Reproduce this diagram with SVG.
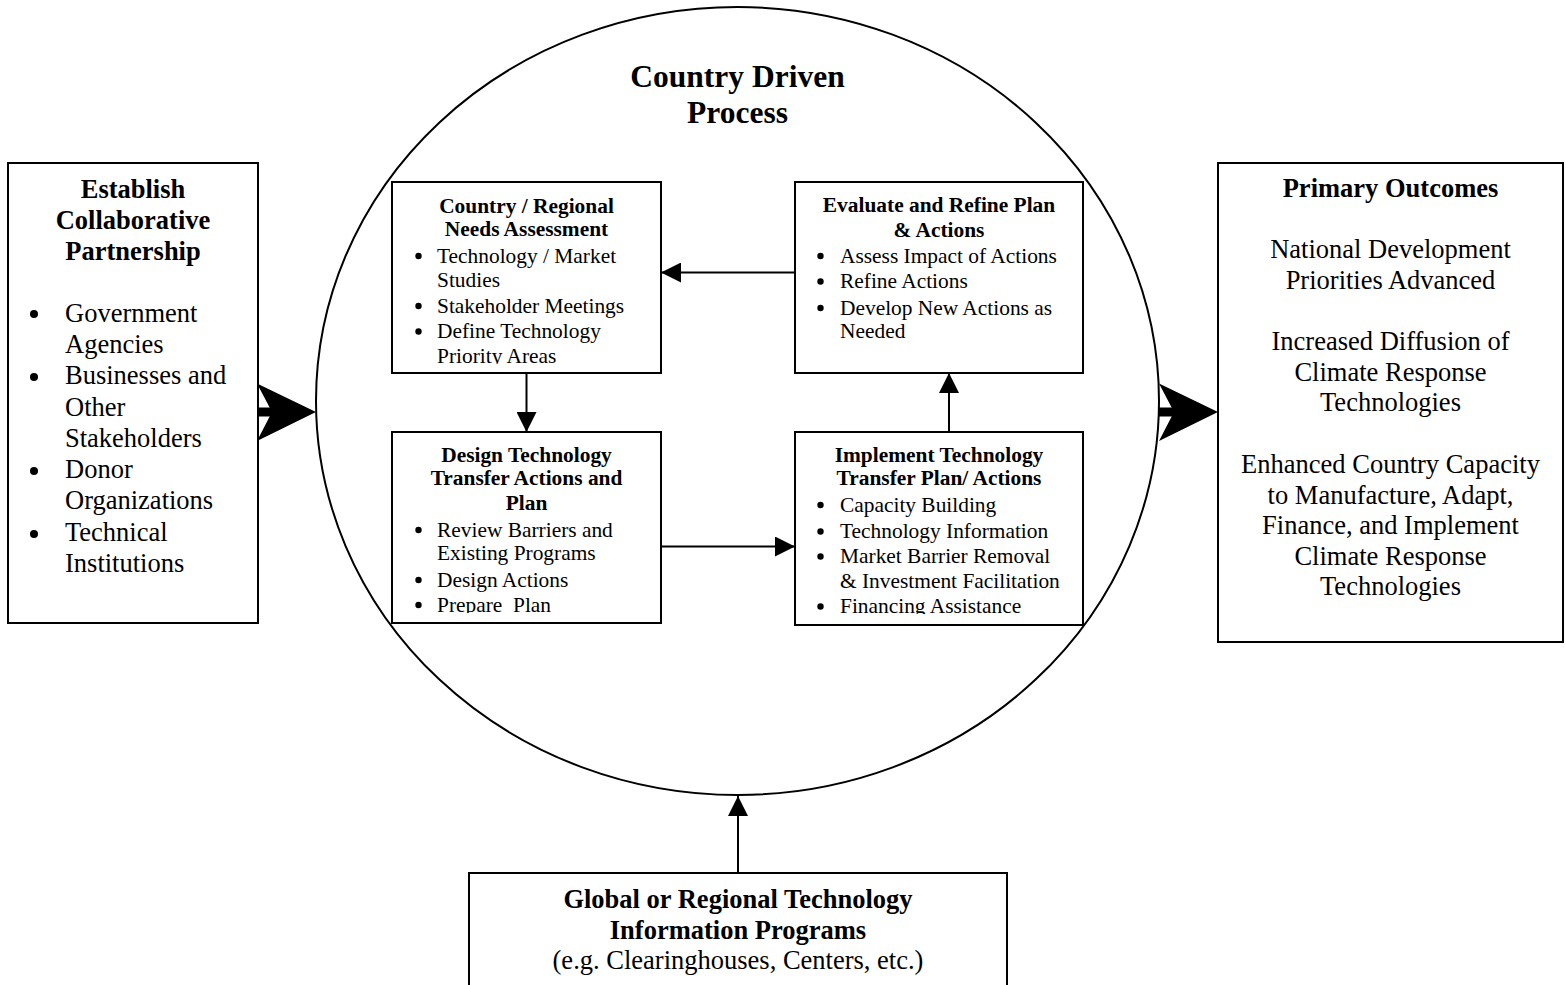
<svg xmlns="http://www.w3.org/2000/svg" width="1566" height="985" viewBox="0 0 1566 985">
  <style>
    .box { fill: #fff; stroke: #000; stroke-width: 2; }
    .ring { fill: none; stroke: #000; stroke-width: 2; }
    .t { font-family: "Liberation Serif", "Times New Roman", serif; fill: #000; }
    .big { font-size: 26.5px; }
    .small { font-size: 21.4px; }
    .b { font-weight: bold; }
    .mid { text-anchor: middle; }
    .link { stroke: #000; stroke-width: 2; fill: none; marker-end: url(#head); }
    .fat { fill: #000; stroke: none; }
    .dot { fill: #000; }
  </style>
  <defs>
    <marker id="head" markerUnits="userSpaceOnUse" markerWidth="20" markerHeight="20" refX="20" refY="10" orient="auto">
      <path d="M0,0 L20,10 L0,20 z" fill="#000"/>
    </marker>
    <clipPath id="clipA"><rect x="392" y="182" width="269" height="182"/></clipPath>
    <clipPath id="clipC"><rect x="392" y="432" width="269" height="181"/></clipPath>
    <clipPath id="clipD"><rect x="795" y="432" width="288" height="182"/></clipPath>
  </defs>

  <rect width="1566" height="985" fill="#fff"/>

  <!-- central process ring -->
  <g id="process">
    <ellipse class="ring" cx="737.5" cy="401" rx="421.5" ry="394"/>
    <text class="t b mid" font-size="31.5" x="737.5" y="87">Country Driven</text>
    <text class="t b mid" font-size="31.5" x="737.5" y="123">Process</text>
  </g>

  <!-- partnership box -->
  <g id="partnership">
    <rect class="box" x="8" y="163" width="250" height="460"/>
    <text class="t big b mid" x="133" y="197.5">Establish</text>
    <text class="t big b mid" x="133" y="229">Collaborative</text>
    <text class="t big b mid" x="133" y="260">Partnership</text>
    <circle class="dot" cx="34" cy="314" r="4"/>
    <circle class="dot" cx="34" cy="377" r="4"/>
    <circle class="dot" cx="34" cy="471" r="4"/>
    <circle class="dot" cx="34" cy="534" r="4"/>
    <text class="t big" x="65" y="321.7">Government</text>
    <text class="t big" x="65" y="353">Agencies</text>
    <text class="t big" x="65" y="384.2">Businesses and</text>
    <text class="t big" x="65" y="415.5">Other</text>
    <text class="t big" x="65" y="446.7">Stakeholders</text>
    <text class="t big" x="65" y="478">Donor</text>
    <text class="t big" x="65" y="509.2">Organizations</text>
    <text class="t big" x="65" y="540.5">Technical</text>
    <text class="t big" x="65" y="571.7">Institutions</text>
  </g>

  <!-- outcomes box -->
  <g id="outcomes">
    <rect class="box" x="1218" y="163" width="345" height="479"/>
    <text class="t big b mid" x="1390.5" y="197">Primary Outcomes</text>
    <text class="t big mid" x="1390.5" y="258">National Development</text>
    <text class="t big mid" x="1390.5" y="288.5">Priorities Advanced</text>
    <text class="t big mid" x="1390.5" y="350">Increased Diffusion of</text>
    <text class="t big mid" x="1390.5" y="380.5">Climate Response</text>
    <text class="t big mid" x="1390.5" y="411">Technologies</text>
    <text class="t big mid" x="1390.5" y="473">Enhanced Country Capacity</text>
    <text class="t big mid" x="1390.5" y="503.5">to Manufacture, Adapt,</text>
    <text class="t big mid" x="1390.5" y="534">Finance, and Implement</text>
    <text class="t big mid" x="1390.5" y="564.5">Climate Response</text>
    <text class="t big mid" x="1390.5" y="595">Technologies</text>
  </g>

  <!-- needs assessment -->
  <g id="needs">
    <rect class="box" x="392" y="182" width="269" height="191"/>
    <g clip-path="url(#clipA)">
      <text class="t small b mid" x="526.5" y="212.5">Country / Regional</text>
      <text class="t small b mid" x="526.5" y="236">Needs Assessment</text>
      <circle class="dot" cx="418.5" cy="256" r="3.2"/>
      <circle class="dot" cx="418.5" cy="306" r="3.2"/>
      <circle class="dot" cx="418.5" cy="331.5" r="3.2"/>
      <text class="t small" x="437" y="262.7">Technology / Market</text>
      <text class="t small" x="437" y="286.7">Studies</text>
      <text class="t small" x="437" y="312.7">Stakeholder Meetings</text>
      <text class="t small" x="437" y="338">Define Technology</text>
      <text class="t small" x="437" y="362.7">Priority Areas</text>
    </g>
  </g>

  <!-- evaluate and refine -->
  <g id="evaluate">
    <rect class="box" x="795" y="182" width="288" height="191"/>
    <text class="t small b mid" x="939" y="211.7">Evaluate and Refine Plan</text>
    <text class="t small b mid" x="939" y="236.5">&amp; Actions</text>
    <circle class="dot" cx="820.5" cy="256" r="3.2"/>
    <circle class="dot" cx="820.5" cy="281.5" r="3.2"/>
    <circle class="dot" cx="820.5" cy="308" r="3.2"/>
    <text class="t small" x="840" y="262.7">Assess Impact of Actions</text>
    <text class="t small" x="840" y="288.3">Refine Actions</text>
    <text class="t small" x="840" y="315">Develop New Actions as</text>
    <text class="t small" x="840" y="338.3">Needed</text>
  </g>

  <!-- design actions and plan -->
  <g id="design">
    <rect class="box" x="392" y="432" width="269" height="191"/>
    <g clip-path="url(#clipC)">
      <text class="t small b mid" x="526.5" y="461.7">Design Technology</text>
      <text class="t small b mid" x="526.5" y="485">Transfer Actions and</text>
      <text class="t small b mid" x="526.5" y="510">Plan</text>
      <circle class="dot" cx="418.5" cy="530" r="3.2"/>
      <circle class="dot" cx="418.5" cy="580" r="3.2"/>
      <circle class="dot" cx="418.5" cy="605" r="3.2"/>
      <text class="t small" x="437" y="536.7">Review Barriers and</text>
      <text class="t small" x="437" y="560">Existing Programs</text>
      <text class="t small" x="437" y="586.7">Design Actions</text>
      <text class="t small" x="437" y="611.7" xml:space="preserve">Prepare  Plan</text>
    </g>
  </g>

  <!-- implement plan -->
  <g id="implement">
    <rect class="box" x="795" y="432" width="288" height="193"/>
    <g clip-path="url(#clipD)">
      <text class="t small b mid" x="939" y="461.7">Implement Technology</text>
      <text class="t small b mid" x="939" y="485">Transfer Plan/ Actions</text>
      <circle class="dot" cx="820.5" cy="505" r="3.2"/>
      <circle class="dot" cx="820.5" cy="531.5" r="3.2"/>
      <circle class="dot" cx="820.5" cy="556.5" r="3.2"/>
      <circle class="dot" cx="820.5" cy="606.5" r="3.2"/>
      <text class="t small" x="840" y="511.7">Capacity Building</text>
      <text class="t small" x="840" y="538.3">Technology Information</text>
      <text class="t small" x="840" y="563.3">Market Barrier Removal</text>
      <text class="t small" x="840" y="588.3">&amp; Investment Facilitation</text>
      <text class="t small" x="840" y="613.3">Financing Assistance</text>
    </g>
  </g>

  <!-- information programs -->
  <g id="programs">
    <rect class="box" x="469" y="873" width="538" height="130"/>
    <text class="t big b mid" x="738" y="907.5">Global or Regional Technology</text>
    <text class="t big b mid" x="738" y="939">Information Programs</text>
    <text class="t big mid" x="738" y="969">(e.g. Clearinghouses, Centers, etc.)</text>
  </g>

  <!-- connectors -->
  <g id="connectors">
    <line class="link" x1="795" y1="272.5" x2="661" y2="272.5"/>
    <line class="link" x1="526.5" y1="373" x2="526.5" y2="432"/>
    <line class="link" x1="661" y1="546.5" x2="795" y2="546.5"/>
    <line class="link" x1="949" y1="432" x2="949" y2="373"/>
    <line class="link" x1="738" y1="873" x2="738" y2="796"/>
    <!-- broad feed arrows into and out of the ring -->
    <rect class="fat" x="258" y="407.5" width="16" height="9"/>
    <path class="fat" d="M257,383.5 L316,412 L257,441 L272,412 z"/>
    <rect class="fat" x="1159" y="407.5" width="16" height="9"/>
    <path class="fat" d="M1159,383.5 L1218,412 L1159,441 L1174,412 z"/>
  </g>
</svg>
